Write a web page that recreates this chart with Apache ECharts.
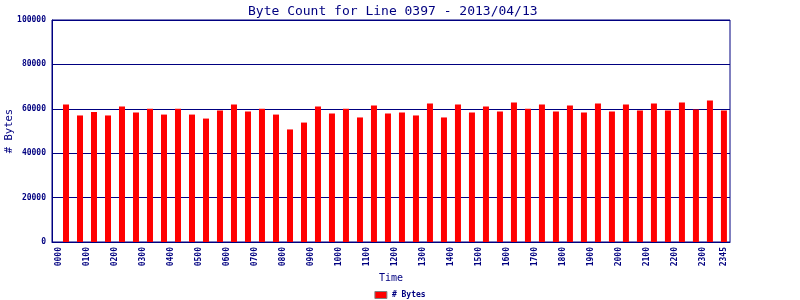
<!DOCTYPE html>
<html>
<head>
<meta charset="utf-8">
<script src="https://cdn.jsdelivr.net/npm/echarts@6/dist/echarts.min.js"></script>
<style>html,body{margin:0;padding:0;background:#fff}#c{width:800px;height:300px}</style>
</head>
<body>
<div id="c"></div>
<script>
var times = ["0015","0045","0115","0145","0215","0245","0315","0345","0415","0445","0515","0545",
  "0615","0645","0715","0745","0815","0845","0915","0945","1015","1045","1115","1145",
  "1215","1245","1315","1345","1415","1445","1515","1545","1615","1645","1715","1745",
  "1815","1845","1915","1945","2015","2045","2115","2145","2215","2245","2315","2345"];
var bytes = [61900,57000,58600,57000,61000,58300,60000,57400,60000,57400,55600,59200,
  61900,58800,60000,57400,50700,53800,61000,57900,60000,56100,61500,57900,
  58300,57000,62400,56100,61900,58300,61000,58800,62800,60000,61900,58800,
  61500,58300,62400,58800,61900,59200,62400,59200,62800,59700,63700,59200];
var tickLabels = ["0000","0100","0200","0300","0400","0500","0600","0700","0800","0900","1000","1100",
  "1200","1300","1400","1500","1600","1700","1800","1900","2000","2100","2200","2300","2345"];

function toMin(s){ return parseInt(s.slice(0,2),10)*60 + parseInt(s.slice(2),10) - 15; }
function fmt(m){ var h=Math.floor(m/60), mm=m%60; return (h<10?'0':'')+h+(mm<10?'0':'')+mm; }
// bars are centred a quarter hour after their slot start
var barData = times.map(function(t,i){ return [toMin(t)+15, bytes[i]]; });
var tickVals = tickLabels.map(function(s){ return parseInt(s.slice(0,2),10)*60 + parseInt(s.slice(2),10); });

var navy = '#000080';
var mono = '"DejaVu Sans Mono", "Liberation Mono", monospace';
var chart = echarts.init(document.getElementById('c'), null, {renderer:'canvas'});
chart.setOption({
  animation:false,
  backgroundColor:'#fff',
  title:{text:'Byte Count for Line 0397 - 2013/04/13', left:243, top:0,
    textStyle:{fontFamily:mono, fontSize:13, fontWeight:'normal', color:navy}},
  grid:{left:52, right:70, top:20, bottom:58, show:true, borderColor:navy, borderWidth:1,
    containLabel:false, outerBoundsMode:'none'},
  legend:{top:286, left:'center', icon:'rect', itemWidth:12, itemHeight:7, itemGap:4,
    data:['# Bytes'], itemStyle:{borderColor:'#808080', borderWidth:1},
    textStyle:{fontFamily:mono, fontSize:8, fontWeight:'bold', color:navy}},
  xAxis:{type:'value', min:-15, max:1438, name:'Time', nameLocation:'middle', nameGap:31,
    nameMoveOverlap:false,
    nameTextStyle:{fontFamily:mono, fontSize:10, color:navy},
    axisLine:{onZero:false, lineStyle:{color:navy}}, axisTick:{show:false}, splitLine:{show:false},
    axisLabel:{customValues:tickVals, rotate:90, margin:5, fontFamily:mono, fontSize:8,
      fontWeight:'bold', color:navy, formatter:function(v){ return fmt(v); }}},
  yAxis:{type:'value', min:0, max:100000, interval:20000, name:'# Bytes', nameLocation:'middle',
    nameGap:37, nameMoveOverlap:false, nameTextStyle:{fontFamily:mono, fontSize:10.5, color:navy},
    axisLine:{show:true, onZero:false, lineStyle:{color:navy}}, axisTick:{show:false},
    splitLine:{lineStyle:{color:navy, width:1}},
    axisLabel:{margin:6, fontFamily:mono, fontSize:8, fontWeight:'bold', color:navy,
      formatter:function(v){ return String(v); }}},
  series:[{name:'# Bytes', type:'bar', data:barData, barWidth:6,
    itemStyle:{color:'#ff0000'}, emphasis:{disabled:true}}]
});
</script>
</body>
</html>
